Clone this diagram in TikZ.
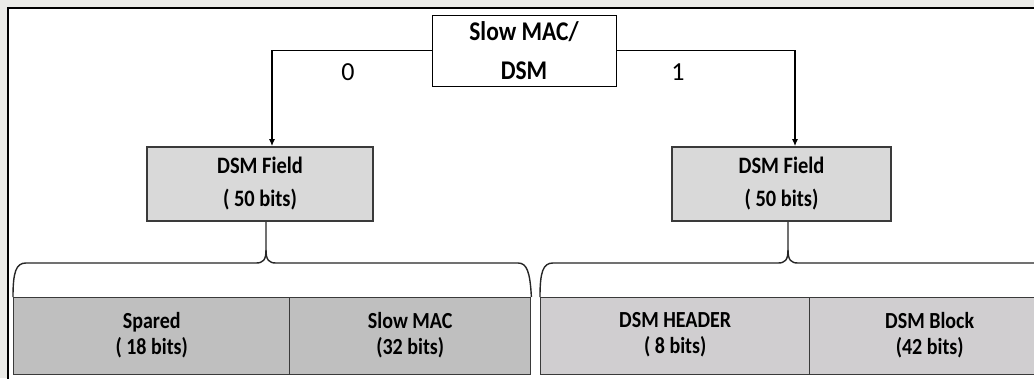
\documentclass[tikz,border=0pt]{standalone}
\usepackage{fontspec}
\setmainfont{Carlito}
\newfontfamily\boxfont[FakeStretch=0.87]{Carlito}
\usetikzlibrary{arrows.meta}
\definecolor{bgout}{HTML}{EBEBE8}
\definecolor{fieldfill}{HTML}{D9D9D9}
\definecolor{rowA}{HTML}{BFBFBF}
\definecolor{rowB}{HTML}{D0CED0}
\definecolor{edge}{HTML}{3A3A3A}
\tikzset{
  topbox/.style={draw=black, fill=white, line width=0.9pt, minimum width=184pt, minimum height=71pt,
    inner sep=0pt, align=center, font=\boxfont\bfseries\fontsize{27}{39}\selectfont},
  fieldbox/.style={draw=edge, fill=fieldfill, line width=1.6pt, minimum height=74pt,
    inner sep=0pt, align=center, font=\boxfont\bfseries\fontsize{23.5}{33}\selectfont},
  cellbox/.style={draw=edge, line width=1.4pt, minimum height=77pt, anchor=north west,
    inner sep=0pt, align=center, font=\boxfont\bfseries\fontsize{23}{26}\selectfont},
  conn/.style={line width=1.8pt, -{Latex[length=7pt,width=6pt]}},
  bracepath/.style={line width=1.4pt, draw=black!85},
  lbl/.style={font=\fontsize{26}{30}\selectfont, inner sep=0pt}
}
\begin{document}
\begin{tikzpicture}[x=1pt,y=-1pt]
\useasboundingbox (0,0) rectangle (1034,378);
\clip (0,0) rectangle (1034,378);
\fill[bgout] (0,0) rectangle (1034,378);
\fill[white] (8,8) rectangle (1040,380);
\draw[line width=2pt] (8,380) -- (8,8) -- (1040,8);

% top
\node[topbox] (top) at (524,50.5) {Slow MAC/\\DSM};

% DSM fields
\node[fieldbox, minimum width=226pt] (lf) at (260,184) {DSM Field\\( 50 bits)};
\node[fieldbox, minimum width=219pt] (rf) at (781.5,184) {DSM Field\\( 50 bits)};

% connectors
\draw[conn] (top.west) -| ([xshift=12pt]lf.north);
\draw[conn] (top.east) -| ([xshift=13.5pt]rf.north);
\node[lbl] (l0) at (348,72) {0};
\node[lbl] (l1) at (678,72) {1};

% bottom rows
\node[cellbox, fill=rowA, minimum width=276pt, text depth=6pt] (sp) at (13,297) {Spared\\( 18 bits)};
\node[cellbox, fill=rowA, minimum width=241pt, text depth=6pt] (sm) at (289,297) {Slow MAC\\(32 bits)};
\node[cellbox, fill=rowB, minimum width=269pt, text depth=6pt] (dh) at (540,297) {DSM HEADER\\( 8 bits)};
\node[cellbox, fill=rowB, minimum width=240pt, text depth=6pt] (db) at (809,297) {DSM Block\\(42 bits)};

% braces
\draw[bracepath] (sp.north west) .. controls (13,272) and (16,263) .. (26,263) -- (256,263)
  .. controls (263,263) and (266,260) .. (266,250) -- ([xshift=6pt]lf.south);
\draw[bracepath] (266,250) .. controls (266,260) and (269,263) .. (276,263) -- (518,263)
  .. controls (527,263) and (530,272) .. (sm.north east);
\draw[bracepath] (dh.north west) .. controls (540,272) and (543,263) .. (553,263) -- (778,263)
  .. controls (785,263) and (788,260) .. (788,250) -- ([xshift=6.5pt]rf.south);
\draw[bracepath] (788,250) .. controls (788,260) and (791,263) .. (798,263) -- (1045,263);
\end{tikzpicture}
\end{document}
